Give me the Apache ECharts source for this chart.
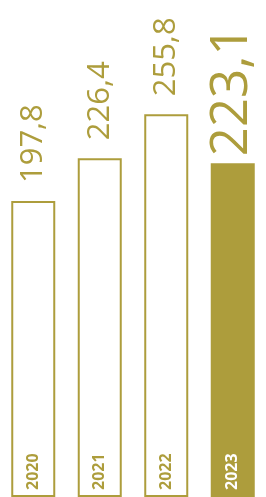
<!DOCTYPE html>
<html>
<head>
<meta charset="utf-8">
<script src="https://cdn.jsdelivr.net/npm/echarts@6/dist/echarts.min.js"></script>
<style>
html,body{margin:0;padding:0;background:#fff;}
#chart{width:266px;height:497px;}
</style>
</head>
<body>
<div id="chart"></div>
<script>
var years = ['2020', '2021', '2022', '2023'];
var values = [197.8, 226.4, 255.8, 223.1];

var gold = '#ad9d3c',
	barW = 44, borderW = 2,
	valSize = 31, valSizeLast = 51, valGap = 18, valGapLast = 7,
	yearSize = 16, yearGap = 7;

function fmt(v){
	return v.toFixed(1).replace('.', ',');
}

var myChart = echarts.init(document.getElementById('chart'));

var last = values.length - 1;
var barData = values.map(function (v, i) {
	var hl = i == last;
	return {
		value: v,
		itemStyle: hl ? {color: gold} : {color: '#fff', borderColor: gold, borderWidth: borderW},
		label: {
			fontSize: hl ? valSizeLast : valSize,
			distance: hl ? valGapLast : valGap
		}
	};
});
var yearData = values.map(function (v, i) {
	return {
		value: v,
		label: {color: i == last ? '#fff' : gold}
	};
});

var option = {
	animation: false,//no animation
	grid: {
		left: -1,
		right: -3,
		top: 0,
		bottom: -7
	},
	xAxis: {
		type: 'category',
		data: years,
		axisLine: {show: false},
		axisTick: {show: false},
		axisLabel: {show: false}
	},
	yAxis: {
		type: 'value',
		min: 0,
		max: 332.2,
		show: false,
		splitLine: {show: false}
	},
	series: [
		{
			type: 'bar',
			barWidth: barW,
			data: barData,
			label: {
				show: true,
				position: 'top',
				rotate: 90,
				align: 'left',
				verticalAlign: 'middle',
				color: gold,
				fontFamily: 'Open Sans',
				fontWeight: 'normal',
				formatter: function (p) { return fmt(p.value); }
			}
		},
		{
			// year labels at the foot of each bar
			type: 'bar',
			barWidth: barW,
			barGap: '-100%',
			silent: true,
			itemStyle: {color: 'transparent'},
			data: yearData,
			label: {
				show: true,
				position: 'insideBottom',
				rotate: 90,
				align: 'left',
				verticalAlign: 'middle',
				distance: yearGap,
				fontFamily: 'Open Sans',
				fontWeight: 'bold',
				fontSize: yearSize,
				formatter: '{b}'
			}
		}
	]
};
myChart.setOption(option);
</script>
</body>
</html>
